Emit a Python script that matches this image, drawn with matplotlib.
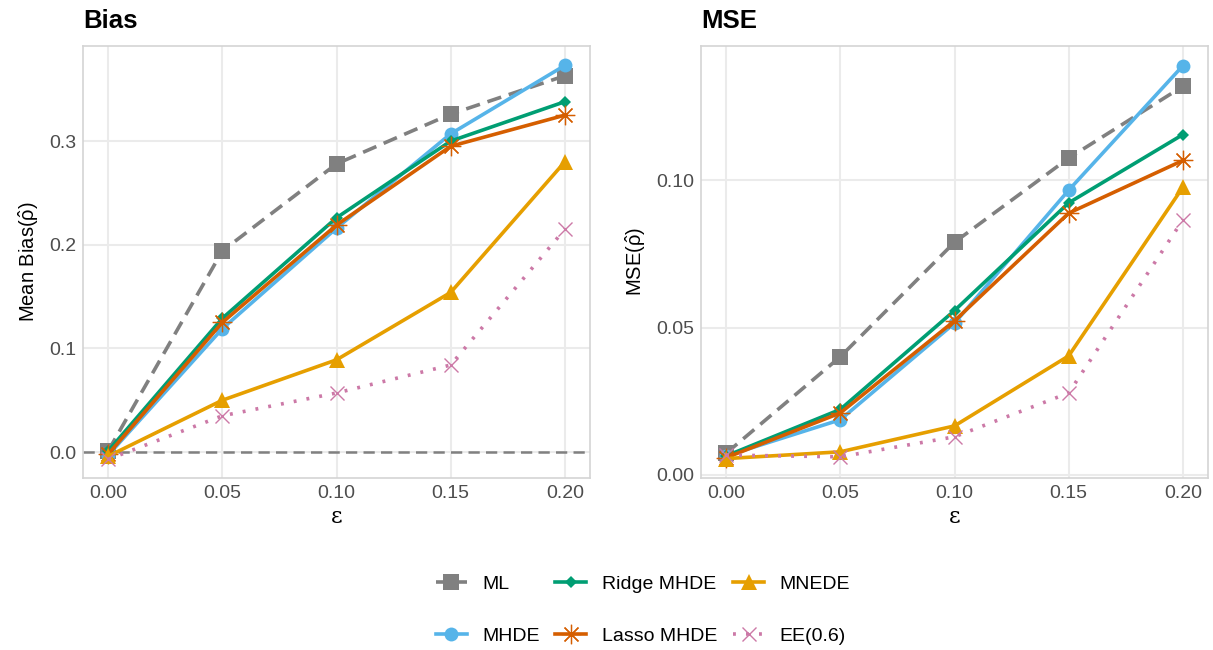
import matplotlib
matplotlib.use("Agg")
import matplotlib.pyplot as plt

plt.rcParams['font.family'] = ['Liberation Sans', 'DejaVu Sans']
plt.rcParams['mathtext.fontset'] = 'custom'
plt.rcParams['mathtext.rm'] = 'Liberation Sans'
plt.rcParams['mathtext.it'] = 'Liberation Sans'

eps = [0.00, 0.05, 0.10, 0.15, 0.20]
methods = ["ML", "MHDE", "Ridge MHDE", "Lasso MHDE", "MNEDE", "EE(0.6)"]

bias_ml = [0.001, 0.194, 0.278, 0.326, 0.363]
bias_mhde = [-0.003, 0.119, 0.216, 0.307, 0.373]
bias_ridge = [0.001, 0.129, 0.226, 0.300, 0.338]
bias_lasso = [-0.002, 0.125, 0.219, 0.295, 0.325]
bias_mnede = [-0.004, 0.050, 0.089, 0.154, 0.280]
bias_ee = [-0.007, 0.035, 0.057, 0.084, 0.215]

mse_ml = [0.0073, 0.0401, 0.0790, 0.1076, 0.1320]
mse_mhde = [0.0064, 0.0187, 0.0515, 0.0967, 0.1390]
mse_ridge = [0.0064, 0.0222, 0.0558, 0.0924, 0.1156]
mse_lasso = [0.0058, 0.0210, 0.0523, 0.0889, 0.1068]
mse_mnede = [0.0055, 0.0078, 0.0166, 0.0404, 0.0977]
mse_ee = [0.0067, 0.0061, 0.0129, 0.0278, 0.0866]

bias_ticks = [0.0, 0.1, 0.2, 0.3]
mse_ticks = [0.00, 0.05, 0.10]
x_ticks = [0.00, 0.05, 0.10, 0.15, 0.20]

bias_series = [bias_ml, bias_mhde, bias_ridge, bias_lasso, bias_mnede, bias_ee]
mse_series = [mse_ml, mse_mhde, mse_ridge, mse_lasso, mse_mnede, mse_ee]

styles = {
    "ML": dict(color="#808080", ls=(0, (4, 2.2)), marker="s", ms=11, mew=0),
    "MHDE": dict(color="#56B4E9", ls="-", marker="o", ms=10, mew=0),
    "Ridge MHDE": dict(color="#009E73", ls="-", marker="D", ms=6.5, mew=0),
    "Lasso MHDE": dict(color="#D55E00", ls="-", marker=(8, 2, 0), ms=14, mew=0.9),
    "MNEDE": dict(color="#E69F00", ls="-", marker="^", ms=11.5, mew=0),
    "EE(0.6)": dict(color="#CC79A7", ls=(0, (0.8, 2.8)), marker="x", ms=10, mew=1.0),
}

fig = plt.figure(figsize=(12.13, 6.5), dpi=100)
ax1 = fig.add_axes([83/1213, 1-478/650, 507/1213, (478-45.7)/650])
ax2 = fig.add_axes([701/1213, 1-478/650, 507/1213, (478-45.7)/650])

def style_ax(ax, ticks, fmt, title, ylabel):
    ax.set_facecolor("white")
    for s in ax.spines.values():
        s.set_color("#D4D4D4")
        s.set_linewidth(1.2)
    ax.grid(True, color="#EBEBEB", lw=1.5, zorder=0)
    ax.set_axisbelow(True)
    ax.set_xticks(x_ticks)
    ax.set_xticklabels([f"{t:.2f}" for t in x_ticks])
    ax.set_yticks(ticks)
    ax.set_yticklabels([fmt.format(t) for t in ticks])
    ax.tick_params(length=0, labelsize=14, labelcolor="#4D4D4D", pad=5)
    ax.set_xlim(-0.011, 0.211)
    ax.set_title(title, loc="left", fontsize=18.5, fontweight="bold", pad=13)
    ax.set_xlabel("ε", fontsize=16, family=["DejaVu Serif"], labelpad=3)
    ax.set_ylabel(ylabel, fontsize=14.5, labelpad=6)

handles = []
for ax, series in ((ax1, bias_series), (ax2, mse_series)):
    for name, vals in zip(methods, series):
        st = styles[name]
        h, = ax.plot(eps, vals, color=st["color"], ls=st["ls"], lw=2.6,
                     marker=st["marker"], ms=st["ms"], mew=st["mew"],
                     mec=st["color"], mfc=st["color"], label=name, zorder=3,
                     clip_on=False)
        if ax is ax1:
            handles.append(h)

ax1.axhline(0, color="#808080", ls=(0, (4.5, 2.5)), lw=1.8, zorder=2)

style_ax(ax1, bias_ticks, "{:.1f}", "Bias", r"Mean Bias$(\hat{\rho})$")
style_ax(ax2, mse_ticks, "{:.2f}", "MSE", r"MSE$(\hat{\rho})$")
ax1.set_ylim(-0.025, 0.392)
ax2.set_ylim(-0.0011, 0.1458)
ax1.title.set_position((0.0, 1))
ax2.title.set_position((-0.005, 1))

leg = fig.legend(handles=handles, labels=methods, ncol=3, loc="center",
                 bbox_to_anchor=(0.530, 0.0615), frameon=False, fontsize=14,
                 handlelength=1.6, handletextpad=0.8, columnspacing=0.8,
                 labelspacing=1.75)

fig.savefig("out.png", dpi=100, facecolor="white")
